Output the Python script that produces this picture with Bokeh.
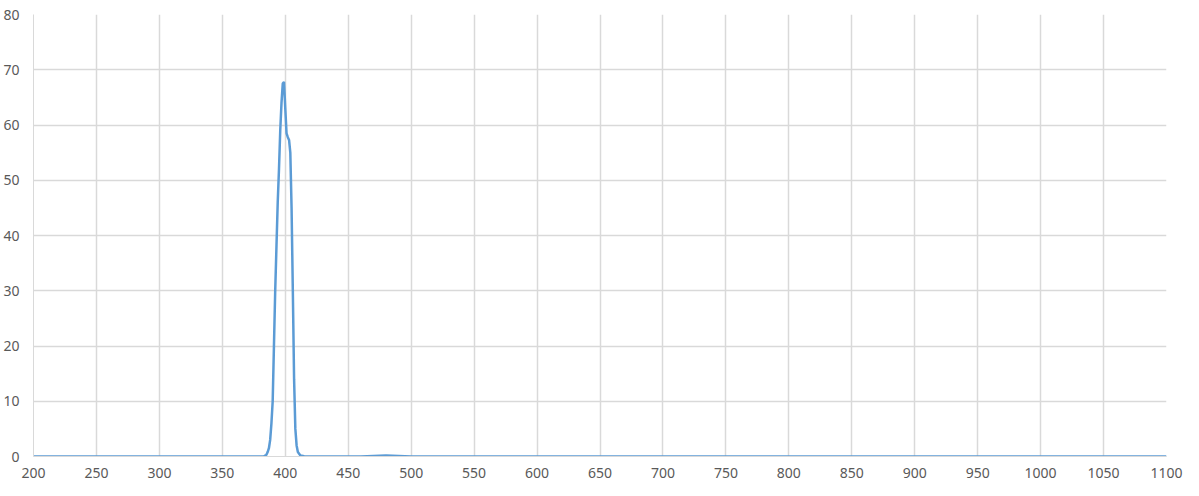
from bokeh.plotting import figure
from bokeh.models import Range1d, FixedTicker
from bokeh.embed import file_html
from bokeh.resources import INLINE

wavelength = [200, 300, 370, 380, 383, 385, 386, 387, 388, 389, 390, 391, 392, 393, 394,
              395, 396, 397, 398, 399, 400, 401, 402, 403, 404, 405, 406, 407, 408,
              409, 410, 412, 415, 420, 460, 470, 480, 490, 500, 600, 800, 1000, 1100]
intensity = [0, 0, 0, 0, 0.05, 0.3, 0.8, 1.5, 3, 6, 10, 20, 30, 38, 46,
             52, 59, 64, 67.5, 67.8, 63, 58.5, 57.8, 57.3, 55, 45, 30, 14, 5,
             2, 0.8, 0.2, 0.05, 0, 0, 0.1, 0.2, 0.1, 0, 0, 0, 0, 0]

x_ticks = list(range(200, 1101, 50))
y_ticks = list(range(0, 81, 10))

p = figure(width=1183, height=480, output_backend="svg", toolbar_location=None,
           x_range=Range1d(200, 1100), y_range=Range1d(0, 80),
           min_border_left=27, min_border_right=17, min_border_top=14, min_border_bottom=22)
p.outline_line_color = None
p.background_fill_color = "white"

p.line(wavelength, intensity, line_color="#5b9bd5", line_width=2.5)

for ax in (p.xaxis[0], p.yaxis[0]):
    ax.major_tick_line_color = None
    ax.minor_tick_line_color = None
    ax.axis_line_color = "#d9d9d9"
    ax.major_label_text_font = "Noto Sans"
    ax.major_label_text_font_size = "14px"
    ax.major_label_text_color = "#595959"

p.xaxis.ticker = FixedTicker(ticks=x_ticks)
p.yaxis.ticker = FixedTicker(ticks=y_ticks)
p.xaxis.major_label_standoff = 5
p.yaxis.major_label_standoff = 8

p.xgrid.ticker = FixedTicker(ticks=x_ticks)
p.ygrid.ticker = FixedTicker(ticks=y_ticks)
for g in (p.xgrid[0], p.ygrid[0]):
    g.grid_line_color = "#d9d9d9"
    g.grid_line_width = 1.5

open("out.html", "w").write(file_html(p, INLINE))
